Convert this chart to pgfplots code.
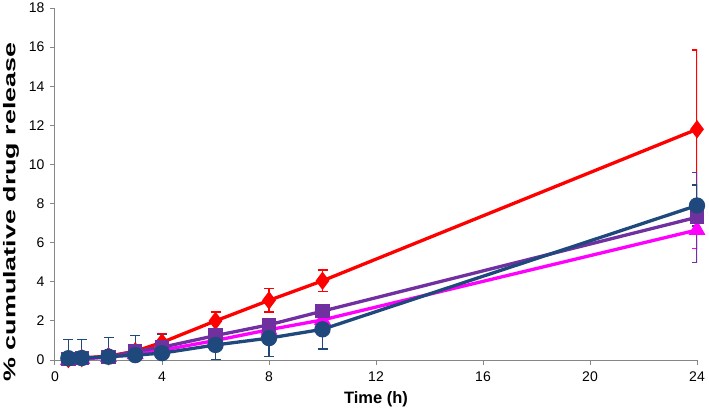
\documentclass[border=0pt]{standalone}
\usepackage{pgfplots}
\pgfplotsset{compat=1.18}
\usepackage{fontspec}
\setmainfont{Liberation Sans}
\definecolor{cRed}{RGB}{255,0,0}
\definecolor{cMag}{RGB}{255,0,255}
\definecolor{cPur}{RGB}{112,48,160}
\definecolor{cBlu}{RGB}{31,73,125}
\definecolor{axgray}{RGB}{134,134,134}
\pgfplotsset{myerr/.style={error bars/.cd, y dir=both, y explicit,
  error bar style={line width=1.3pt, solid},
  error mark options={rotate=90, mark size=5pt, line width=1.3pt}}}
\begin{document}
\begin{tikzpicture}
\begin{axis}[
  name=ax,
  width=642pt, height=352pt, scale only axis,
  xmin=0, xmax=24, ymin=0, ymax=18,
  xtick={0,4,...,24}, ytick={0,2,...,18},
  axis lines=left,
  axis line style={-, draw=axgray, line width=1pt},
  tick style={draw=axgray, line width=1pt},
  tick align=outside,
  major tick length=5pt,
  tick label style={font=\fontsize{14}{16}\selectfont},
  xticklabel style={yshift=-3pt},
  yticklabel style={xshift=-2pt},
  /pgf/number format/assume math mode=true,
  xlabel={\fontsize{16.5}{18}\selectfont\bfseries Time (h)},
  ylabel={\scalebox{1.58}[1.0]{\fontsize{17}{19}\selectfont\bfseries \% cumulative drug release}},
  xlabel style={yshift=-3pt},
  ylabel style={yshift=3pt, xshift=-28pt},
]
\addplot[color=cRed, line width=3.3pt, mark=diamond*, mark size=6.5pt, myerr] coordinates {
  (0.5,0.05) +- (0,0.05)
  (1,0.1) +- (0,0.05)
  (2,0.2) +- (0,0.1)
  (3,0.45) +- (0,0.2)
  (4,0.9) +- (0,0.45)
  (6,2.0) +- (0,0.45)
  (8,3.05) +- (0,0.6)
  (10,4.05) +- (0,0.55)
  (24,11.8) +- (0,4.05)
};
\addplot[color=cMag, line width=3.3pt, mark=triangle*, mark size=6.5pt, myerr] coordinates {
  (0.5,0.0) +- (0,0.05)
  (1,0.05) +- (0,0.05)
  (2,0.15) +- (0,0.1)
  (3,0.3) +- (0,0.15)
  (4,0.5) +- (0,0.2)
  (6,1.0) +- (0,0.3)
  (8,1.55) +- (0,0.3)
  (10,2.05) +- (0,0.3)
  (24,6.65) +- (0,0.95)
};
\addplot[color=cPur, line width=3.3pt, mark=square*, mark size=5.5pt, myerr] coordinates {
  (0.5,0.05) +- (0,0.05)
  (1,0.1) +- (0,0.05)
  (2,0.15) +- (0,0.1)
  (3,0.45) +- (0,0.2)
  (4,0.65) +- (0,0.3)
  (6,1.25) +- (0,0.3)
  (8,1.8) +- (0,0.3)
  (10,2.5) +- (0,0.3)
  (24,7.3) +- (0,2.3)
};
\addplot[color=cBlu, line width=3.3pt, mark=*, mark size=6.5pt, myerr] coordinates {
  (0.5,0.09) +- (0,0.97)
  (1,0.1) +- (0,0.95)
  (2,0.17) +- (0,0.97)
  (3,0.25) +- (0,1.0)
  (4,0.35) +- (0,0.95)
  (6,0.77) +- (0,0.75)
  (8,1.12) +- (0,0.95)
  (10,1.57) +- (0,1.0)
  (24,7.9) +- (0,1.05)
};
\end{axis}
\pgfresetboundingbox
\path[use as bounding box] ([xshift=-55pt,yshift=-56pt]ax.south west) rectangle ([xshift=12pt,yshift=8pt]ax.north east);
\end{tikzpicture}
\end{document}
